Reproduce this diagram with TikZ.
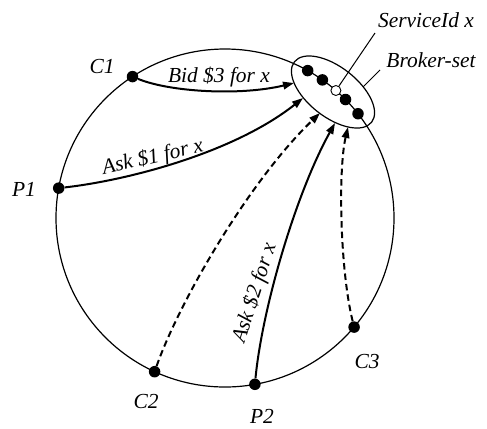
\documentclass[tikz,border=0pt]{standalone}
\usepackage{fontspec}
\setmainfont{Liberation Serif}
\usetikzlibrary{shapes.geometric,arrows.meta}
\begin{document}
\begin{tikzpicture}[x=1bp,y=-1bp,
  lbl/.style={font=\fontsize{21.5}{25}\selectfont\itshape, inner sep=0pt},
  dot/.style={circle,fill=black,inner sep=0pt,minimum size=11.5bp},
  hdot/.style={circle,draw=black,fill=white,line width=0.9bp,inner sep=0pt,minimum size=10bp},
  msg/.style={line width=2bp,-{Triangle[length=11bp,width=7.5bp]}},
  dmsg/.style={msg,dash pattern=on 6.5bp off 4bp},
  ring/.style={line width=1.2bp},
  leader/.style={line width=1bp}]
\useasboundingbox (0,0) rectangle (487,428);
\coordinate (O) at (225,218);
\draw[ring] (O) circle[radius=169bp];
\node[draw, ellipse, line width=1.2bp, minimum width=98bp, minimum height=50bp, inner sep=0pt, rotate=-38] (BS) at (333,92) {};
% peers on the ring
\node[dot] (C1) at (132.5,76.6) {};
\node[dot] (P1) at (58.7,188.1) {};
\node[dot] (C2) at (154.6,371.7) {};
\node[dot] (P2) at (254.9,384.3) {};
\node[dot] (C3) at (354.1,327.1) {};
% broker set
\node[dot] (B1) at (307.7,70.6) {};
\node[dot] (B2) at (322.4,79.9) {};
\node[hdot] (Bx) at (335.9,90.5) {};
\node[dot] (B3) at (345.5,99.5) {};
\node[dot] (B4) at (358.0,113.7) {};
% arrow targets on the broker-set border
\coordinate (t1) at (294,83);
\coordinate (t2) at (303,98);
\coordinate (t3) at (320,113);
\coordinate (t4) at (335,123);
\coordinate (t5) at (348,127);
% messages
\draw[msg] (C1) .. controls (170,92) and (240,96) .. (t1);
\draw[msg] (P1) .. controls (130,180) and (235,152) .. (t2);
\draw[dmsg] (C2) .. controls (180,300) and (250,180) .. (t3);
\draw[msg] (P2) .. controls (262,310) and (295,195) .. (t4);
\draw[dmsg] (C3) .. controls (340,270) and (338,170) .. (t5);
% leaders
\coordinate (sl) at (375,33);
\draw[leader] (Bx) -- (sl);
\coordinate (bl1) at (380,70);
\coordinate (bl2) at (363,87);
\draw[leader] (bl1) -- (bl2);
% labels
\node[lbl] (lS) at (426,20) {ServiceId x};
\node[lbl] (lB) at (431,60) {Broker-set};
\node[lbl] (lC1) at (102,67) {C1};
\node[lbl] (lP1) at (24,189) {P1};
\node[lbl] (lC2) at (146,401) {C2};
\node[lbl] (lP2) at (262,416) {P2};
\node[lbl] (lC3) at (367,362) {C3};
\node[lbl, anchor=base] (m1) at (219,82) {Bid \$3 for x};
\node[lbl, anchor=base, rotate=13] (m2) at (154,163) {Ask \$1 for x};
\node[lbl, rotate=72] (m3) at (255,293) {Ask \$2 for x};
\end{tikzpicture}
\end{document}
